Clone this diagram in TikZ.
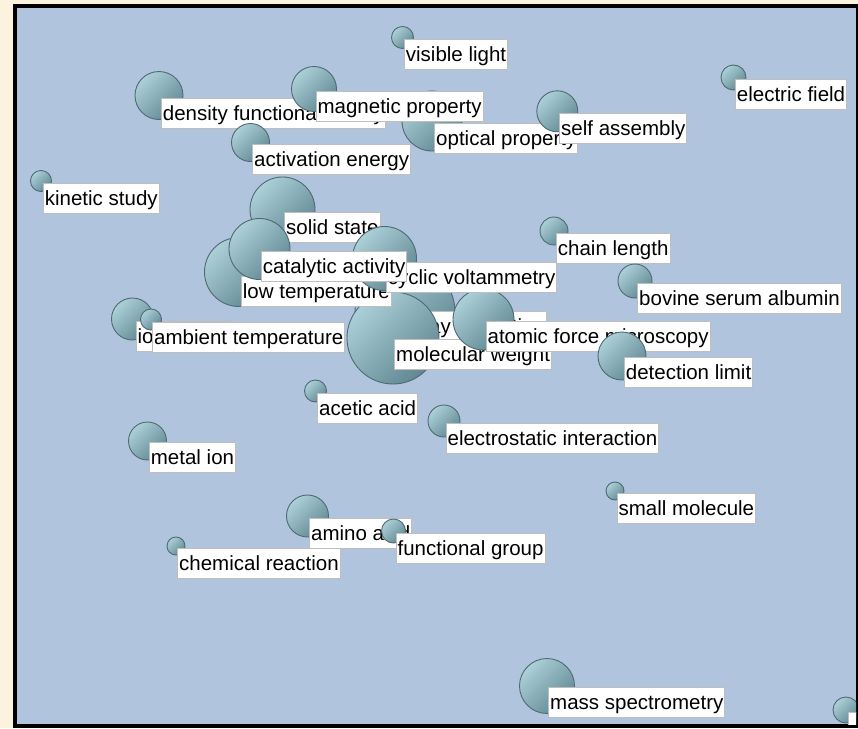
\documentclass[tikz,border=0pt]{standalone}
\usepackage{fontspec}
\setmainfont{Liberation Sans}
\usepackage{tikz}
\definecolor{cream}{RGB}{251,243,222}
\definecolor{panel}{RGB}{176,196,222}
\definecolor{bublight}{RGB}{172,208,216}
\definecolor{bubdark}{RGB}{96,135,146}
\definecolor{bubedge}{RGB}{78,106,114}
\definecolor{lbledge}{RGB}{190,190,190}

\begin{document}
\begin{tikzpicture}[x=1pt,y=-1pt,
   bub/.style={circle,draw=bubedge,line width=0.9pt,top color=bublight,bottom color=bubdark,
      shading angle=45,inner sep=0pt,outer sep=0pt,minimum size=#1},
   lbl/.style={draw=lbledge,fill=white,line width=0.8pt,anchor=north west,inner xsep=1.5pt,
      inner ysep=3pt,text height=19pt,text depth=5pt,text=black,
      font=\fontsize{20.5}{24}\selectfont}]
   \useasboundingbox (0,0) rectangle (858,728);
   \fill[cream] (0,0) rectangle (858,728);
   \fill[black] (13,4) rectangle (858,728);
   \fill[panel] (17,8) rectangle (856,724);
   \begin{scope}
   \clip (17,8) rectangle (856,724);
   \node[bub=22] (vis) at (402.5,37.5) {};
   \node[lbl] (vis-l) at (404,39.3) {visible light};
   \node[bub=48] (dft) at (159,95.5) {};
   \node[lbl] (dft-l) at (161,97.7) {density functional theory};
   \node[bub=60] (opt) at (432,121) {};
   \node[lbl] (opt-l) at (434.3,122.7) {optical property};
   \node[bub=45] (mag) at (314,89) {};
   \node[lbl] (mag-l) at (315.7,90.7) {magnetic property};
   \node[bub=41] (self) at (557.3,111.3) {};
   \node[lbl] (self-l) at (559.3,113.3) {self assembly};
   \node[bub=25] (efield) at (733.5,77.5) {};
   \node[lbl] (efield-l) at (735,79) {electric field};
   \node[bub=38] (act) at (250.5,142.5) {};
   \node[lbl] (act-l) at (252.3,144.3) {activation energy};
   \node[bub=21] (kin) at (41,181) {};
   \node[lbl] (kin-l) at (43,183) {kinetic study};
   \node[bub=28] (chain) at (554,231) {};
   \node[lbl] (chain-l) at (556,232.7) {chain length};
   \node[bub=34] (bsa) at (635,281) {};
   \node[lbl] (bsa-l) at (637.3,283.3) {bovine serum albumin};
   \node[bub=100] (xrd) at (405,312) {};
   \node[lbl] (xrd-l) at (400,310.7) {X-ray diffraction};
   \node[bub=92] (mw) at (393,338) {};
   \node[lbl] (mw-l) at (394.3,339) {molecular weight};
   \node[bub=61] (afm) at (483.5,319.5) {};
   \node[lbl] (afm-l) at (485.7,321) {atomic force microscopy};
   \node[bub=48] (det) at (622,356) {};
   \node[lbl] (det-l) at (624,357.3) {detection limit};
   \node[bub=69] (lowt) at (239,272) {};
   \node[lbl] (lowt-l) at (241,276) {low temperature};
   \node[bub=65] (solid) at (282.5,209.5) {};
   \node[lbl] (solid-l) at (284.3,211.7) {solid state};
   \node[bub=64] (cv) at (384.5,258.5) {};
   \node[lbl] (cv-l) at (386,261.7) {cyclic voltammetry};
   \node[bub=61] (cat) at (259.5,249) {};
   \node[lbl] (cat-l) at (261,250.7) {catalytic activity};
   \node[bub=42] (ion) at (132.5,319) {};
   \node[lbl] (ion-l) at (135.7,320.7) {ionic liquid};
   \node[bub=21] (amb) at (151,319.5) {};
   \node[lbl] (amb-l) at (152.3,321.7) {ambient temperature};
   \node[bub=22] (acet) at (315.5,391) {};
   \node[lbl] (acet-l) at (317.3,392.7) {acetic acid};
   \node[bub=38] (metal) at (147.5,441) {};
   \node[lbl] (metal-l) at (149,442.3) {metal ion};
   \node[bub=32] (elec) at (444,421) {};
   \node[lbl] (elec-l) at (445.7,422.7) {electrostatic interaction};
   \node[bub=18] (small) at (615,491) {};
   \node[lbl] (small-l) at (616.7,492.7) {small molecule};
   \node[bub=42] (amino) at (307.5,516) {};
   \node[lbl] (amino-l) at (309.3,517.7) {amino acid};
   \node[bub=24] (func) at (393.5,531) {};
   \node[lbl] (func-l) at (395.7,532.7) {functional group};
   \node[bub=18] (chem) at (176,546) {};
   \node[lbl] (chem-l) at (177.3,547.7) {chemical reaction};
   \node[bub=55] (ms) at (547,686) {};
   \node[lbl] (ms-l) at (548.3,687.3) {mass spectrometry};
   \node[bub=26] (edge) at (846,710) {};
   \node[lbl,minimum width=40pt] (edge-l) at (848.3,711.7) {};
   \end{scope}
\end{tikzpicture}
\end{document}
